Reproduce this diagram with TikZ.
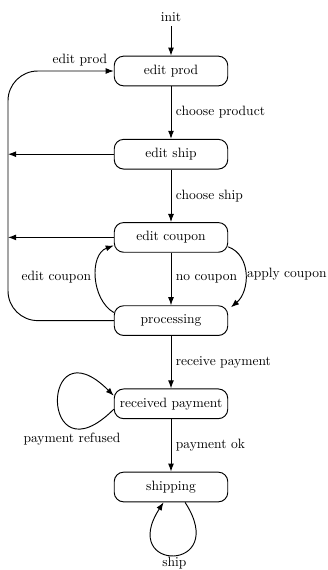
\documentclass[tikz,border=0pt]{standalone}
\usetikzlibrary{arrows.meta}
\begin{document}
\begin{tikzpicture}[x=0.74pt,y=0.74pt,
  state/.style={draw, line width=0.7pt, rounded corners=7pt, minimum width=84pt, minimum height=22pt},
  arr/.style={-{Latex[length=6pt,width=4.4pt]}, line width=0.7pt},
  lbl/.style={inner sep=3.3pt}]
\useasboundingbox (0,0) rectangle (327,-570);
\node (init) at (171,-17) {init};
\node[state] (prod) at (171,-71) {edit prod};
\node[state] (ship) at (171,-154.2) {edit ship};
\node[state] (coupon) at (171,-237.4) {edit coupon};
\node[state] (proc) at (171,-320.6) {processing};
\node[state] (rec) at (171,-403.8) {received payment};
\node[state] (shipping) at (171,-487) {shipping};
\coordinate (L) at (8,-200);
\draw[arr] (init) -- (prod);
\draw[arr] (prod) -- node[lbl,right] {choose product} (ship);
\draw[arr] (ship) -- node[lbl,right] {choose ship} (coupon);
\draw[arr] (coupon) -- node[lbl,right] {no coupon} (proc);
\draw[arr] (proc) -- node[lbl,right] {receive payment} (rec);
\draw[arr] (rec) -- node[lbl,right] {payment ok} (shipping);
\draw[arr, rounded corners=22pt] (proc.west) -| (L) |- node[lbl,pos=0.84,above] {edit prod} (prod.west);
\draw[arr] (ship.west) -- (ship.west -| L);
\draw[arr] (coupon.west) -- (coupon.west -| L);
\draw[arr] ([yshift=6pt]proc.west) to[out=150,in=200] node[lbl,left] {edit coupon} ([yshift=-6pt]coupon.west);
\draw[arr] ([yshift=-7pt]coupon.east) to[out=-20,in=40,looseness=1.05] node[right,inner sep=0.8pt] {apply coupon} ([xshift=2pt,yshift=-1.5pt]proc.north east);
\draw[arr] ([yshift=-4pt]rec.west) .. controls +(225:105) and +(135:105) .. ([yshift=6pt]rec.west) node[lbl,pos=0.25,below] {payment refused};
\draw[arr] ([xshift=10.4pt]shipping.south) .. controls +(-57:84) and +(237:84) .. ([xshift=-5.5pt]shipping.south) node[midway,below,inner sep=0.8pt] {ship};
\end{tikzpicture}
\end{document}
